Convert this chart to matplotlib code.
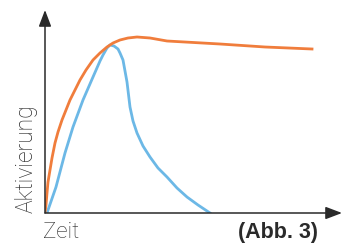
import matplotlib.pyplot as plt

# Curves (x: time units, y: activation units)
orange_x = [0, 1, 2, 3, 5, 7, 10, 13, 17, 21, 25, 30, 35, 41, 48, 55, 62, 68, 75, 83, 92, 105, 122, 175, 220, 267]
orange_y = [0, 8, 20, 31, 43, 55, 70, 81, 93, 103, 113, 123, 133, 143, 153, 160, 166, 170, 173, 175, 176, 175, 172, 169, 166, 164]

blue_x = [2, 11, 20, 28, 38, 48, 55, 58, 62, 65, 69, 73, 75, 78, 80, 82, 85, 88, 92, 98, 105, 113, 122, 132, 142, 153, 165]
blue_y = [0, 26, 60, 86, 113, 136, 152, 158, 165, 168, 167, 164, 160, 153, 142, 131, 106, 92, 80, 67, 56, 45, 36, 25, 16, 8, 0]

DPI = 100
fig = plt.figure(figsize=(350 / DPI, 244 / DPI), dpi=DPI)
ax = fig.add_axes([45 / 350, 31 / 244, 297 / 350, 203 / 244])
ax.set_xlim(0, 297)
ax.set_ylim(0, 203)
ax.axis('off')

ax.plot(blue_x, blue_y, color='#6cb8e6', lw=2.0, solid_joinstyle='round', zorder=2)
ax.plot(orange_x, orange_y, color='#f07d3c', lw=2.0, solid_joinstyle='round', zorder=3)

# Axes with arrow heads
arrow = dict(arrowstyle='-|>,head_length=1.0,head_width=0.38', color='#2a2a2a', lw=1.1, shrinkA=0, shrinkB=0)
ax.annotate('', xy=(0, 1), xytext=(0, 0), xycoords='axes fraction', arrowprops=arrow, annotation_clip=False)
ax.annotate('', xy=(1, 0), xytext=(0, 0), xycoords='axes fraction', arrowprops=arrow, annotation_clip=False)

fig.text(43 / 350, 1 - 238 / 244, 'Zeit', fontsize=16, color='#2a2a2a', ha='left', va='baseline',
         family=['Roboto', 'DejaVu Sans'], fontweight='light')
fig.text(26 / 350, 1 - 213 / 244, 'Aktivierung', fontsize=16.5, color='#2a2a2a', rotation=90, ha='center', va='bottom',
         family=['Roboto', 'DejaVu Sans'], fontweight='light')
fig.text(318 / 350, 1 - 238 / 244, '(Abb. 3)', fontsize=15.5, color='#2a2a2a', fontweight='bold', ha='right', va='baseline',
         family=['Liberation Sans Narrow', 'Liberation Sans'])

fig.savefig('out.png', dpi=DPI)
